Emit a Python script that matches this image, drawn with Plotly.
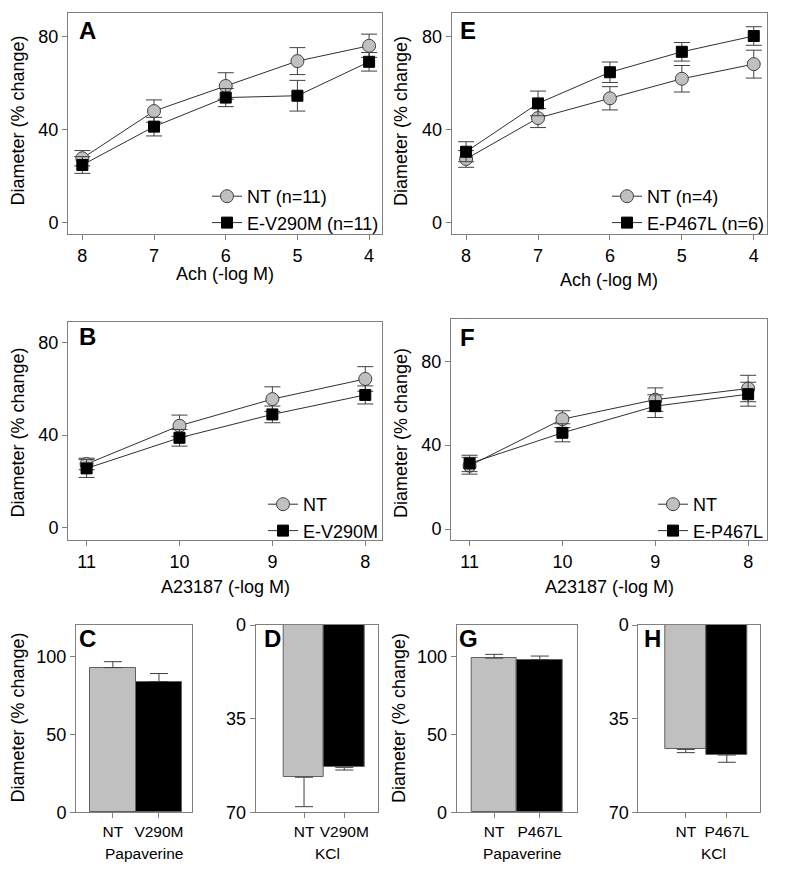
import plotly.graph_objects as go

W, H = 807, 881
OFF = 8  # page body margin

# Ach dose response (-log M)
ach_x = [8, 7, 6, 5, 4]
a_nt = [27.7, 48.0, 58.8, 69.5, 76.1]
a_nt_err = [3.3, 4.8, 5.7, 5.8, 5.0]
a_mut = [24.8, 41.3, 53.8, 54.6, 69.2]
a_mut_err = [3.6, 4.0, 3.9, 6.6, 4.0]

e_nt = [27.4, 45.0, 53.5, 61.9, 68.2]
e_nt_err = [3.6, 4.1, 5.0, 5.7, 6.0]
e_mut = [30.5, 51.3, 64.7, 73.5, 80.3]
e_mut_err = [4.3, 5.3, 4.4, 4.0, 4.0]

# A23187 dose response (-log M)
a23_x = [11, 10, 9, 8]
b_nt = [27.5, 44.0, 55.5, 64.2]
b_nt_err = [2.5, 4.6, 5.3, 5.3]
b_mut = [25.6, 38.8, 48.9, 57.3]
b_mut_err = [3.9, 3.6, 3.6, 3.9]

f_nt = [30.2, 52.4, 61.7, 67.0]
f_nt_err = [4.0, 4.0, 5.6, 6.3]
f_mut = [31.3, 45.9, 58.6, 64.3]
f_mut_err = [3.9, 4.3, 5.4, 5.7]

# bars
v290_labels = ["NT", "V290M"]
p467_labels = ["NT", "P467L"]
c_vals = [92.7, 83.8]
c_err = [3.8, 5.1]
d_vals = [56.9, 53.2]
d_err = [11.0, 1.0]
g_vals = [98.8, 97.8]
g_err = [2.4, 2.3]
h_vals = [46.5, 48.6]
h_err = [1.2, 2.7]

FONT = "Liberation Sans, Arial, sans-serif"
AXC = "#808080"
GRAY = "#c0c0c0"


def px_x(p):
    return (p - OFF) / W


def px_y(p):
    return 1 - (p - OFF) / H


fig = go.Figure()


def line_panel(n, xs, nt, nt_err, mut, mut_err, nt_name, mut_name, legend):
    xa = "x" if n == 1 else f"x{n}"
    ya = "y" if n == 1 else f"y{n}"
    fig.add_trace(go.Scatter(
        x=xs, y=nt, name=nt_name, mode="lines+markers", xaxis=xa, yaxis=ya,
        legend=legend,
        line=dict(color="#303030", width=1),
        marker=dict(symbol="circle", size=13, color=GRAY,
                    line=dict(color="#404040", width=1)),
        error_y=dict(type="data", array=nt_err, color="#404040",
                     thickness=1, width=8)))
    fig.add_trace(go.Scatter(
        x=xs, y=mut, name=mut_name, mode="lines+markers", xaxis=xa, yaxis=ya,
        legend=legend,
        line=dict(color="#303030", width=1),
        marker=dict(symbol="square", size=11, color="black",
                    line=dict(color="black", width=1)),
        error_y=dict(type="data", array=mut_err, color="#404040",
                     thickness=1, width=8)))


def bar_panel(n, labels, vals, err):
    xa = f"x{n}"
    ya = f"y{n}"
    fig.add_trace(go.Bar(
        x=labels, y=vals, xaxis=xa, yaxis=ya, width=1, showlegend=False,
        marker=dict(color=[GRAY, "black"], line=dict(color="#606060", width=1)),
        error_y=dict(type="data", symmetric=False, array=err,
                     arrayminus=[0, 0], color="#404040", thickness=1, width=9)))


line_panel(1, ach_x, a_nt, a_nt_err, a_mut, a_mut_err,
           "NT (n=11)", "E-V290M (n=11)", "legend")
line_panel(2, ach_x, e_nt, e_nt_err, e_mut, e_mut_err,
           "NT (n=4)", "E-P467L (n=6)", "legend2")
line_panel(3, a23_x, b_nt, b_nt_err, b_mut, b_mut_err,
           "NT", "E-V290M", "legend3")
line_panel(4, a23_x, f_nt, f_nt_err, f_mut, f_mut_err,
           "NT", "E-P467L", "legend4")
bar_panel(5, v290_labels, c_vals, c_err)
bar_panel(6, v290_labels, d_vals, d_err)
bar_panel(7, p467_labels, g_vals, g_err)
bar_panel(8, p467_labels, h_vals, h_err)

# panel frames in pixels: left, right, top, bottom, xrange, yrange, yticks
panels = {
    1: (68, 382, 13, 234, [8.2, 3.82], [-4.9, 90.2], [0, 40, 80]),
    2: (451.7, 766.7, 13, 234, [8.2, 3.82], [-4.9, 90.2], [0, 40, 80]),
    3: (68, 382, 321.7, 540, [11.2, 7.82], [-5.3, 88.9], [0, 40, 80]),
    4: (451, 766.7, 319.3, 540, [11.2, 7.8], [-5.2, 100], [0, 40, 80]),
    5: (76, 191.7, 625, 812.3, [-0.8, 1.71], [0, 120], [0, 50, 100]),
    6: (255.7, 377.7, 625, 812.3, [-1.2, 1.83], [70, 0], [0, 35, 70]),
    7: (456.7, 577.3, 625, 812.3, [-0.82, 1.82], [0, 120], [0, 50, 100]),
    8: (638.3, 760, 625, 812.3, [-1.16, 1.81], [70, 0], [0, 35, 70]),
}

layout = {}
for n, (l, r, t, b, xr, yr, yt) in panels.items():
    xk = "xaxis" if n == 1 else f"xaxis{n}"
    yk = "yaxis" if n == 1 else f"yaxis{n}"
    ya = "y" if n == 1 else f"y{n}"
    xa = "x" if n == 1 else f"x{n}"
    xfont = 18 if n <= 4 else 15.5
    xtick = dict(tickvals=ach_x if n in (1, 2) else a23_x) if n <= 4 else {}
    layout[xk] = dict(domain=[px_x(l), px_x(r)], range=xr, anchor=ya,
                      automargin=False,
                      showline=True, mirror=True, linecolor=AXC, linewidth=1,
                      ticks="outside", ticklen=5, tickcolor=AXC,
                      showgrid=False, zeroline=False,
                      tickfont=dict(size=xfont, color="black"), **xtick)
    layout[yk] = dict(domain=[px_y(b), px_y(t)], range=yr, anchor=xa,
                      automargin=False,
                      tickvals=yt, showline=True, mirror=True, linecolor=AXC,
                      linewidth=1, ticks="outside", ticklen=5, tickcolor=AXC,
                      showgrid=False, zeroline=False,
                      tickfont=dict(size=18, color="black"))

legend_style = dict(bgcolor="rgba(0,0,0,0)", font=dict(size=18, color="black"),
                    xanchor="right", yanchor="bottom", tracegroupgap=0,
                    itemwidth=30)
layout["legend"] = dict(x=px_x(384), y=px_y(241), **legend_style)
layout["legend2"] = dict(x=px_x(769), y=px_y(241), **legend_style)
layout["legend3"] = dict(x=px_x(384), y=px_y(549), **legend_style)
layout["legend4"] = dict(x=px_x(769), y=px_y(549), **legend_style)

annotations = []


def note(text, x, y, size=18, angle=0, bold=False):
    annotations.append(dict(
        text=f"<b>{text}</b>" if bold else text, x=px_x(x), y=px_y(y),
        xref="paper", yref="paper", showarrow=False, textangle=angle,
        xanchor="center" if not bold else "left", yanchor="middle",
        font=dict(size=size, color="black", family=FONT)))


# y titles
for x, y in [(17.5, 121), (401, 121), (17.5, 433), (401, 433),
             (17.5, 718), (399, 718)]:
    note("Diameter (% change)", x, y, angle=-90)

# x titles
note("Ach (-log M)", 225, 274)
note("Ach (-log M)", 609, 280)
note("A23187 (-log M)", 225, 587)
note("A23187 (-log M)", 609, 587)
note("Papaverine", 144, 853, size=15.5)
note("KCl", 327, 853, size=15.5)
note("Papaverine", 521.5, 853, size=15.5)
note("KCl", 713, 853, size=15.5)

# panel letters
for letter, x, y in [("A", 77, 31), ("E", 458, 31), ("B", 77, 336),
                     ("F", 458, 337), ("C", 77, 638), ("D", 262, 638),
                     ("G", 457, 638), ("H", 642, 638)]:
    note(letter, x, y, size=24, bold=True)

fig.update_layout(
    width=W, height=H, margin=dict(l=0, r=0, t=0, b=0, autoexpand=False),
    paper_bgcolor="white", plot_bgcolor="white",
    font=dict(family=FONT, color="black"),
    bargap=0, annotations=annotations, **layout)

fig.write_html("out.html")
